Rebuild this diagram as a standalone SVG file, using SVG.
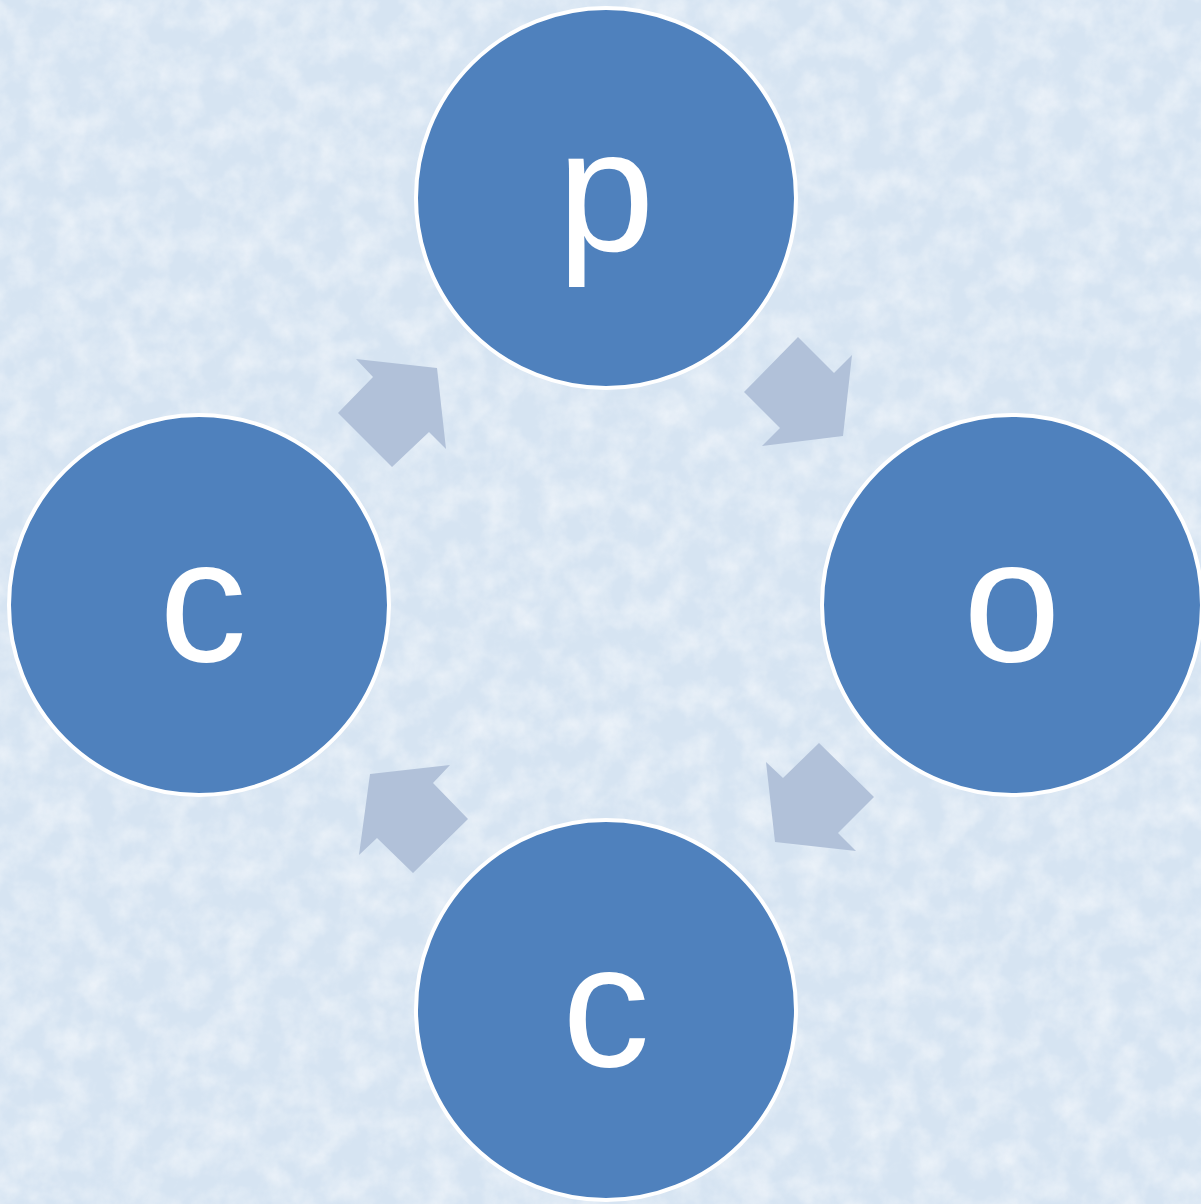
<svg xmlns="http://www.w3.org/2000/svg" width="1201" height="1204" viewBox="0 0 1201 1204">
  <defs>
    <filter id="tex" x="0" y="0" width="100%" height="100%">
      <feTurbulence type="fractalNoise" baseFrequency="0.035" numOctaves="4" seed="7" result="n"/>
      <feColorMatrix in="n" type="matrix" values="0 0 0 0 1  0 0 0 0 1  0 0 0 0 1  0 0 0 -1.6 1.05" result="w"/>
      <feComposite in="w" in2="SourceGraphic" operator="in"/>
    </filter>
    <style>
      .node { fill: #4f81bd; stroke: #ffffff; stroke-width: 4; }
      .lbl { fill: #ffffff; font-family: "Liberation Sans", Arial, sans-serif; font-size: 175px; text-anchor: middle; }
      .arr { fill: #b1c1d9; stroke: none; }
    </style>
  </defs>
  <rect x="0" y="0" width="1201" height="1204" fill="#d6e4f2"/>
  <rect x="0" y="0" width="1201" height="1204" fill="#eef5fb" opacity="0.55" filter="url(#tex)"/>
  <g id="connectors">
    <polygon class="arr" points="356,359 437,368 446,449 429,432 392,467 338,413 373,377"/>
    <polygon class="arr" points="798,337 834,373 852,355 843,436 762,446 780,428 744,392"/>
    <polygon class="arr" points="819,743 874,797 838,833 856,851 775,842 766,762 783,778"/>
    <polygon class="arr" points="370,774 450,765 433,783 468,819 413,873 377,838 359,855"/>
  </g>
  <g id="node-p">
    <circle class="node" cx="606" cy="198" r="190"/>
    <text class="lbl" x="606" y="251">p</text>
  </g>
  <g id="node-o">
    <circle class="node" cx="1012" cy="605" r="190"/>
    <text class="lbl" x="1012" y="661">o</text>
  </g>
  <g id="node-c-bottom">
    <circle class="node" cx="606" cy="1010" r="190"/>
    <text class="lbl" x="606" y="1066">c</text>
  </g>
  <g id="node-c-left">
    <circle class="node" cx="199" cy="605" r="190"/>
    <text class="lbl" x="203" y="661">c</text>
  </g>
</svg>
